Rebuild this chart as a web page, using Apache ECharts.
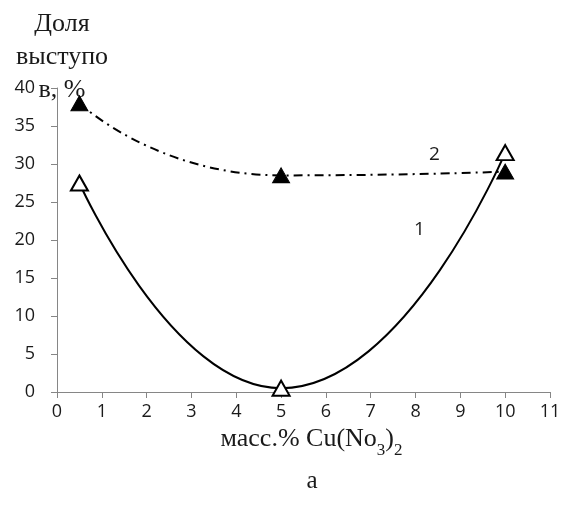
<!DOCTYPE html>
<html lang="ru">
<head>
    <meta charset="UTF-8">
    <title>Доля выступов</title>
    <script src="https://cdn.jsdelivr.net/npm/echarts@6/dist/echarts.min.js"></script>
    <style>
        html, body { margin: 0; padding: 0; background: #fff; }
    </style>
</head>
<body>
<div id="main" style="width: 573px;height:507px;"></div>
<script type="text/javascript">
    // концентрация, масс.%
    var conc = [0.5, 5, 10];
    // кривая 1 (светлые треугольники)
    var curve1 = [27.5, 0.5, 31.5];
    // кривая 2 (тёмные треугольники)
    var curve2 = [38, 28.5, 29];
    var xTicks = [0, 1, 2, 3, 4, 5, 6, 7, 8, 9, 10, 11];
    var yTicks = [0, 5, 10, 15, 20, 25, 30, 35, 40];

    function pairs(xs, ys) {
        var out = [];
        for (var i = 0; i < xs.length; i++) {
            out.push([xs[i], ys[i]]);
        }
        return out;
    }

    var myChart = echarts.init(document.getElementById('main'));
    var axisGray = '#868686';
    var tickFont = { color: '#1a1a1a', fontSize: 18, fontFamily: 'Open Sans' };
    var serif = 'Liberation Serif';

    myChart.setOption({
        animation: false,
        grid: { left: 57, right: 23, top: 88, bottom: 115 },
        xAxis: {
            type: 'value',
            min: xTicks[0],
            max: xTicks[xTicks.length - 1],
            interval: 1,
            name: '{m|масс.% Cu(No}{s|3}{m|)}{s|2}',
            nameLocation: 'middle',
            nameGap: 28,
            nameTextStyle: {
                padding: [0, 0, 0, 16],
                rich: {
                    m: { fontSize: 26, fontFamily: serif, color: '#1a1a1a', lineHeight: 30, verticalAlign: 'bottom' },
                    s: { fontSize: 17, fontFamily: serif, color: '#1a1a1a', lineHeight: 30, verticalAlign: 'bottom', padding: [0, 0, -7, 0] }
                }
            },
            axisLine: { lineStyle: { color: axisGray, width: 1 } },
            axisTick: { lineStyle: { color: axisGray }, length: 6 },
            axisLabel: Object.assign({ margin: 11 }, tickFont),
            splitLine: { show: false }
        },
        yAxis: {
            type: 'value',
            min: yTicks[0],
            max: yTicks[yTicks.length - 1],
            interval: 5,
            axisLine: { show: true, lineStyle: { color: axisGray, width: 1 } },
            axisTick: { show: true, lineStyle: { color: axisGray }, length: 6 },
            axisLabel: Object.assign({ margin: 22 }, tickFont),
            splitLine: { show: false }
        },
        graphic: [
            {
                type: 'text',
                x: 62,
                y: 8,
                style: {
                    text: 'Доля\nвыступо\nв, %',
                    fontFamily: serif,
                    fontSize: 26,
                    fill: '#1a1a1a',
                    align: 'center',
                    lineHeight: 33
                }
            },
            {
                type: 'text',
                x: 414,
                y: 220,
                style: { text: '1', fontFamily: 'Open Sans', fontSize: 19, fill: '#1a1a1a' }
            },
            {
                type: 'text',
                x: 429,
                y: 145,
                style: { text: '2', fontFamily: 'Open Sans', fontSize: 19, fill: '#1a1a1a' }
            },
            {
                type: 'text',
                x: 312,
                y: 469,
                style: { text: 'а', fontFamily: serif, fontSize: 25, fill: '#1a1a1a', align: 'center' }
            }
        ],
        series: [
            {
                name: '1',
                type: 'line',
                data: pairs(conc, curve1),
                smooth: 0.55,
                symbol: 'triangle',
                symbolSize: [17, 15],
                z: 3,
                lineStyle: { color: '#000', width: 2 },
                itemStyle: { color: '#fff', borderColor: '#000', borderWidth: 2 }
            },
            {
                name: '2',
                type: 'line',
                data: pairs(conc, curve2),
                smooth: 0.6,
                symbol: 'triangle',
                symbolSize: [17, 15],
                z: 2,
                lineStyle: { color: '#000', width: 2, type: [9, 5, 2, 5] },
                itemStyle: { color: '#000', borderColor: '#000', borderWidth: 1 }
            }
        ]
    });
</script>
</body>
</html>
